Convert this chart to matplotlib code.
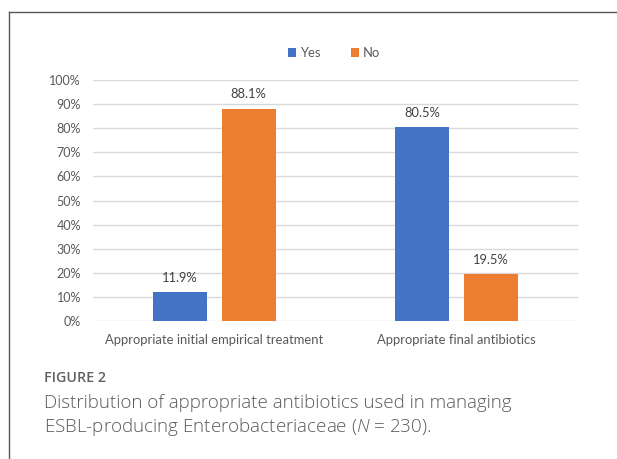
import matplotlib
matplotlib.use("Agg")
import matplotlib.pyplot as plt
import numpy as np
from matplotlib.lines import Line2D
from matplotlib.patches import Patch

categories = ["Appropriate initial empirical treatment", "Appropriate final antibiotics"]
series_names = ["Yes", "No"]
yes_values = [11.9, 80.5]
no_values = [88.1, 19.5]
yticks = [0, 10, 20, 30, 40, 50, 60, 70, 80, 90, 100]
caption_head = "FIGURE 2"
caption_lines = ["Distribution of appropriate antibiotics used in managing",
                 "ESBL-producing Enterobacteriaceae ($\\mathit{N}$ = 230)."]

BLUE = "#4472C4"
ORANGE = "#ED7D31"
TXT = "#595959"

W, H = 617, 459
fig = plt.figure(figsize=(W / 100, H / 100), dpi=100)
plt.rcParams['font.family'] = ['Lato', 'DejaVu Sans']
plt.rcParams['mathtext.fontset'] = 'custom'
plt.rcParams['mathtext.it'] = 'Open Sans:italic:light'
plt.rcParams['mathtext.rm'] = 'Open Sans:light'

ax = fig.add_axes([93 / W, 1 - 321 / H, (578 - 93) / W, (321 - 80) / H])
x = np.arange(len(categories))
bw = 0.223
off = 0.142
b1 = ax.bar(x - off, yes_values, bw, color=BLUE, zorder=3, label=series_names[0])
b2 = ax.bar(x + off, no_values, bw, color=ORANGE, zorder=3, label=series_names[1])
for bars, vals in ((b1, yes_values), (b2, no_values)):
    for r, v in zip(bars, vals):
        ax.annotate(f"{v:.1f}%", (r.get_x() + r.get_width() / 2, v),
                    xytext=(0, 6), textcoords="offset points",
                    ha="center", va="bottom", fontsize=9.3, color="#404040")

ax.set_xlim(-0.5, 1.5)
ax.set_ylim(0, 100)
ax.set_yticks(yticks)
ax.set_yticklabels([f"{t}%" for t in yticks], fontsize=9, color=TXT)
ax.set_xticks(x)
ax.set_xticklabels(categories, fontsize=9.4, color=TXT)
ax.tick_params(axis='y', length=0, pad=8.6)
ax.tick_params(axis='x', length=0, pad=9)
ax.grid(axis='y', color="#D9D9D9", linewidth=1, zorder=0)
for s in ax.spines.values():
    s.set_visible(False)

handles = [Patch(facecolor=BLUE, label=series_names[0]),
           Patch(facecolor=ORANGE, label=series_names[1])]
fig.legend(handles=handles, loc="center", bbox_to_anchor=(334 / W, 1 - 53 / H),
           ncol=2, frameon=False, fontsize=9.4, handlelength=0.65, handleheight=0.65,
           handletextpad=0.3, columnspacing=2.3, labelcolor=TXT)

# border frame
fig.add_artist(Line2D([9 / W, 9 / W], [0, 1 - 12 / H], transform=fig.transFigure,
                      color="#555555", linewidth=1.0))
fig.add_artist(Line2D([9 / W, 1], [1 - 12 / H, 1 - 12 / H], transform=fig.transFigure,
                      color="#555555", linewidth=1.0))

cap_fam = ['Open Sans', 'DejaVu Sans']
fig.text(44 / W, 1 - 378 / H, caption_head, fontsize=10.3, color="#616161",
         fontweight="semibold", va="center", ha="left", family=cap_fam)
fig.text(44 / W, 1 - 403 / H, caption_lines[0], fontsize=13.5, color="#5a5a5a",
         fontweight="light", va="center", ha="left", family=cap_fam)
fig.text(44 / W, 1 - 427 / H, caption_lines[1], fontsize=13.5, color="#5a5a5a",
         fontweight="light", va="center", ha="left", family=cap_fam)

fig.savefig("out.png", dpi=100)
